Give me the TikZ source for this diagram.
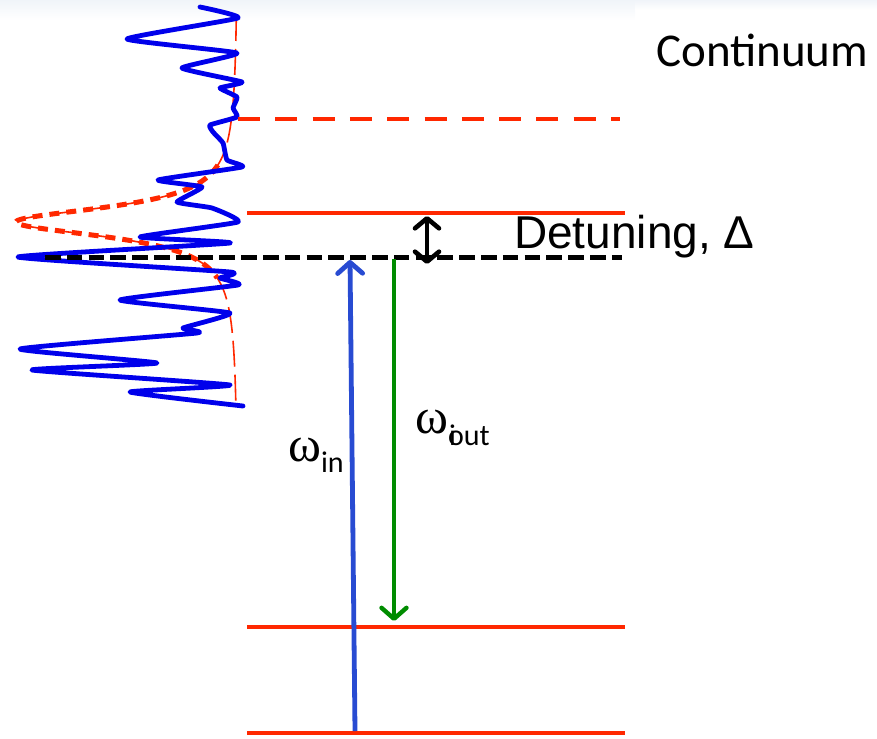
\documentclass[tikz,border=0pt]{standalone}
\usepackage{fontspec}
\setmainfont{Liberation Sans}
\newfontfamily\calib{Carlito}
\newfontfamily\tms{Liberation Serif}
\usetikzlibrary{arrows.meta}
\definecolor{lvred}{RGB}{255,40,0}
\definecolor{specblue}{RGB}{0,0,235}
\definecolor{arrblue}{RGB}{40,75,210}
\definecolor{arrgreen}{RGB}{0,140,0}
\definecolor{bandgray}{RGB}{240,244,249}
\tikzset{
  level/.style={draw=lvred, line width=4.8pt},
  virtlevel/.style={draw=black, line width=5pt, dash pattern=on 15.5pt off 6.3pt},
  contlevel/.style={draw=lvred, line width=4.8pt, dash pattern=on 22pt off 15.3pt},
  lbl/.style={inner sep=0pt, anchor=base west},
}
\begin{document}
\begin{tikzpicture}[x=1pt,y=-1pt]
\useasboundingbox (0,0) rectangle (877,738);
\shade[top color=bandgray, bottom color=white] (0,0) rectangle (635,20);
\shade[top color=bandgray, bottom color=white] (635,0) rectangle (877,10);

% Lorentzian line profile (thin dashed and thick dotted part)
\draw[lvred, line width=1.6pt, dash pattern=on 26pt off 8pt]
  plot[domain=15:407, samples=240, variable=\t] ({238-222/(1+((\t-222)/18)^2)}, \t);
\draw[lvred, line width=5pt, dash pattern=on 10pt off 7pt]
  plot[domain=165:278, samples=160, variable=\t] ({238-222/(1+((\t-222)/18)^2)}, \t);

% noisy spectrum
\draw[specblue, line width=4.8pt, line join=round, line cap=round]
  plot[smooth, tension=0.25] coordinates {
  (200,7) (238,18) (127,39) (237,53) (182,68) (242,82) (220,88)
  (237,97) (233,108) (237,117) (210,125) (213,132) (223,143)
  (227,160) (242,167) (158,180) (202,187) (177,202) (212,208)
  (238,222) (140,237) (230,243) (18,257) (230,272) (220,278)
  (238,285) (120,300) (230,313) (183,328) (197,333) (20,349)
  (157,363) (32,370) (230,385) (130,392) (243,406)};

% energy levels
\coordinate (c1) at (238,119); \coordinate (c2) at (620,119);
\coordinate (u1) at (247,213); \coordinate (u2) at (625,213);
\coordinate (v1) at (45,257);  \coordinate (v2) at (622,257);
\coordinate (m1) at (247,627); \coordinate (m2) at (625,627);
\coordinate (g1) at (247,733); \coordinate (g2) at (625,733);
\draw[contlevel] (c1) -- (c2);
\draw[level] (u1) -- (u2);
\draw[level] (m1) -- (m2);
\draw[level] (g1) -- (g2);
\draw[virtlevel] (v1) -- (v2);

% transitions
\coordinate (inS) at (355,731); \coordinate (inE) at (350,260);
\coordinate (outS) at (394,259); \coordinate (outE) at (394,621);
\coordinate (dT) at (427,216); \coordinate (dB) at (427,264);
\draw[arrblue, line width=4.8pt, -{Straight Barb[length=11pt,width=25pt,round]}] (inS) -- (inE);
\draw[arrgreen, line width=4.4pt, -{Straight Barb[length=11pt,width=25pt,round]}] (outS) -- (outE);
\draw[black, line width=4.6pt, {Straight Barb[length=10pt,width=24pt,round]}-{Straight Barb[length=10pt,width=24pt,round]}] (dT) -- (dB);

% labels
\node[lbl] (cont) at (656,67) {\calib\fontsize{47}{50}\selectfont Continuum};
\node[lbl] (det) at (514,248) {\fontsize{46}{50}\selectfont Detuning, Δ};
\node[lbl] (win) at (288,461) {{\tms\fontsize{50}{54}\selectfont ω}\raisebox{-11pt}{\calib\fontsize{30}{34}\selectfont in}};
\node[lbl] (wout) at (415,433) {{\tms\fontsize{50}{54}\selectfont ω}\raisebox{-12pt}{\calib\fontsize{30}{34}\selectfont \rlap{\kern1pt i}out}};
\end{tikzpicture}
\end{document}
